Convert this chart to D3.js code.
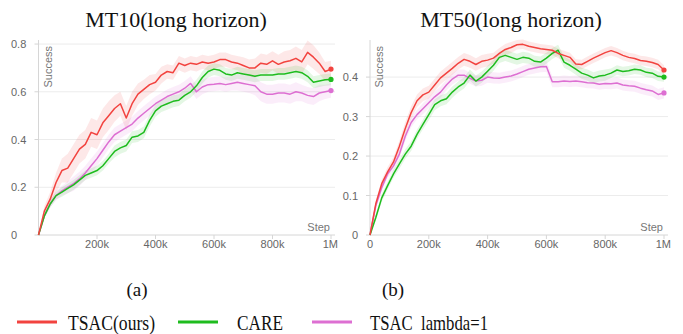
<!DOCTYPE html>
<html>
<head>
<meta charset="utf-8">
<script src="https://cdn.jsdelivr.net/npm/d3@7"></script>
<style>
  body { margin: 0; background: #fff; }
  svg { display: block; }
</style>
</head>
<body>
<div id="chart"></div>
<script>
// steps in thousands
const steps = [0,20,40,60,80,100,120,140,160,180,200,220,240,260,280,300,320,340,360,380,400,
  420,440,460,480,500,520,540,560,580,600,620,640,660,680,700,720,740,760,780,800,
  820,840,860,880,900,920,940,960,980,1000];

const mt10Tsac = [0,0.10,0.15,0.22,0.27,0.28,0.32,0.36,0.38,0.43,0.42,0.47,0.50,0.53,0.55,0.49,0.55,0.59,0.61,0.63,0.64,
  0.67,0.685,0.68,0.72,0.71,0.72,0.715,0.725,0.72,0.725,0.735,0.735,0.725,0.72,0.71,0.70,0.70,0.72,0.715,0.73,
  0.715,0.725,0.73,0.74,0.725,0.765,0.745,0.72,0.685,0.695];
const mt10Care = [0,0.08,0.13,0.165,0.18,0.195,0.21,0.23,0.25,0.26,0.27,0.29,0.32,0.35,0.365,0.375,0.41,0.415,0.43,0.48,0.52,
  0.54,0.55,0.56,0.565,0.585,0.60,0.625,0.66,0.685,0.695,0.69,0.675,0.67,0.68,0.675,0.67,0.665,0.67,0.67,0.67,
  0.675,0.675,0.68,0.685,0.68,0.665,0.64,0.645,0.65,0.652];
const mt10Lambda = [0,0.08,0.13,0.165,0.185,0.20,0.215,0.235,0.26,0.29,0.32,0.355,0.39,0.42,0.435,0.45,0.465,0.49,0.51,0.53,0.55,
  0.565,0.58,0.59,0.60,0.615,0.635,0.60,0.62,0.63,0.632,0.635,0.63,0.635,0.64,0.635,0.63,0.625,0.60,0.59,0.59,
  0.595,0.595,0.59,0.60,0.595,0.585,0.58,0.595,0.60,0.605];

const mt50Tsac = [0,0.08,0.13,0.16,0.185,0.225,0.27,0.31,0.34,0.355,0.362,0.38,0.398,0.41,0.422,0.435,0.445,0.44,0.432,0.44,0.443,
  0.448,0.46,0.47,0.475,0.482,0.483,0.478,0.475,0.472,0.47,0.468,0.46,0.455,0.45,0.433,0.432,0.44,0.448,0.455,0.462,
  0.467,0.462,0.455,0.45,0.447,0.442,0.44,0.437,0.432,0.418];
const mt50Care = [0,0.045,0.094,0.125,0.155,0.18,0.205,0.225,0.255,0.28,0.305,0.33,0.34,0.345,0.362,0.375,0.385,0.405,0.39,0.40,0.415,
  0.43,0.45,0.455,0.45,0.445,0.45,0.448,0.44,0.438,0.448,0.46,0.468,0.438,0.43,0.42,0.41,0.405,0.398,0.403,0.405,
  0.41,0.418,0.414,0.416,0.42,0.418,0.412,0.41,0.402,0.40];
const mt50Lambda = [0,0.075,0.12,0.155,0.175,0.205,0.25,0.285,0.305,0.32,0.335,0.35,0.362,0.38,0.395,0.405,0.405,0.397,0.39,0.392,0.40,
  0.398,0.397,0.40,0.403,0.408,0.414,0.42,0.423,0.426,0.427,0.388,0.388,0.39,0.389,0.39,0.388,0.386,0.385,0.382,0.384,
  0.383,0.385,0.38,0.378,0.377,0.372,0.368,0.365,0.356,0.36];

// half-widths of the shaded bands
const mt10TsacSpread = [0,0.02,0.03,0.04,0.05,0.06,0.06,0.06,0.06,0.06,0.06,0.06,0.06,0.055,0.05,0.05,0.05,0.045,0.04,0.04,0.035,
  0.035,0.03,0.03,0.03,0.03,0.03,0.03,0.03,0.03,0.03,0.03,0.03,0.03,0.03,0.035,0.035,0.04,0.04,0.04,0.04,
  0.04,0.045,0.045,0.05,0.05,0.05,0.05,0.045,0.04,0.035];
const mt10CareSpread = [0,0.01,0.015,0.015,0.02,0.02,0.02,0.02,0.02,0.02,0.02,0.02,0.02,0.025,0.025,0.025,0.025,0.025,0.025,0.025,0.025,
  0.025,0.025,0.025,0.025,0.025,0.025,0.025,0.025,0.025,0.025,0.025,0.025,0.025,0.025,0.025,0.025,0.025,0.025,0.025,0.025,
  0.025,0.025,0.025,0.025,0.025,0.025,0.025,0.025,0.025,0.025];
const mt10LambdaSpread = [0,0.01,0.015,0.02,0.02,0.025,0.03,0.03,0.03,0.03,0.03,0.03,0.03,0.03,0.03,0.03,0.03,0.03,0.03,0.03,0.03,
  0.03,0.03,0.03,0.03,0.03,0.03,0.03,0.03,0.03,0.03,0.03,0.03,0.03,0.035,0.035,0.035,0.04,0.04,0.04,0.04,
  0.04,0.04,0.04,0.04,0.035,0.035,0.035,0.035,0.03,0.03];
const mt50TsacSpread = [0,0.008,0.01,0.012,0.012,0.014,0.016,0.016,0.016,0.016,0.016,0.016,0.016,0.016,0.016,0.016,0.016,0.016,0.016,0.016,0.016,
  0.014,0.014,0.014,0.014,0.012,0.012,0.012,0.012,0.012,0.012,0.012,0.012,0.012,0.012,0.012,0.012,0.012,0.012,0.012,0.012,
  0.012,0.012,0.012,0.012,0.012,0.012,0.012,0.012,0.012,0.012];
const mt50CareSpread = [0,0.008,0.01,0.01,0.01,0.012,0.012,0.012,0.012,0.012,0.014,0.014,0.014,0.014,0.014,0.014,0.014,0.014,0.014,0.014,0.014,
  0.014,0.014,0.014,0.014,0.014,0.014,0.014,0.014,0.014,0.014,0.014,0.014,0.014,0.014,0.014,0.014,0.014,0.014,0.014,0.014,
  0.012,0.012,0.012,0.012,0.012,0.012,0.012,0.012,0.012,0.012];
const mt50LambdaSpread = [0,0.008,0.01,0.01,0.012,0.012,0.012,0.012,0.012,0.014,0.014,0.014,0.014,0.014,0.014,0.014,0.014,0.014,0.014,0.014,0.014,
  0.014,0.014,0.014,0.014,0.014,0.014,0.014,0.014,0.014,0.014,0.014,0.014,0.014,0.014,0.014,0.014,0.014,0.014,0.014,0.014,
  0.014,0.014,0.014,0.014,0.014,0.014,0.014,0.014,0.014,0.014];

const seriesNames = ['TSAC(ours)', 'CARE', 'TSAC  lambda=1'];
const seriesColors = ['#f2433f', '#1ebc1e', '#dd6fd2'];
const xTickValues = [200, 400, 600, 800, 1000];
const xTickLabels = ['200k', '400k', '600k', '800k', '1M'];
const mt10YTicks = [0, 0.2, 0.4, 0.6, 0.8];
const mt50YTicks = [0, 0.1, 0.2, 0.3, 0.4];

const W = 683, H = 334;
const svg = d3.select('#chart').append('svg').attr('width', W).attr('height', H);

function drawPanel(p) {
  const x = d3.scaleLinear().domain([0, 1000]).range([p.x0, p.x1]);
  const y = d3.scaleLinear().domain([0, p.yMax]).range([235, 40]);
  const g = svg.append('g');

  // gridlines
  g.selectAll('.grid').data(p.yTicks.filter(d => d > 0)).enter().append('line')
    .attr('x1', p.x0).attr('x2', p.x1 + 4)
    .attr('y1', d => y(d)).attr('y2', d => y(d))
    .attr('stroke', '#ececec').attr('stroke-width', 1);

  // axes
  g.append('line').attr('x1', p.x0).attr('x2', p.x0).attr('y1', 40).attr('y2', 235)
    .attr('stroke', '#d6d6d6');
  g.append('line').attr('x1', p.x0).attr('x2', p.x1 + 4).attr('y1', 235).attr('y2', 235)
    .attr('stroke', '#d6d6d6');
  g.selectAll('.yt').data(p.yTicks).enter().append('line')
    .attr('x1', p.x0 - 4).attr('x2', p.x0).attr('y1', d => y(d)).attr('y2', d => y(d))
    .attr('stroke', '#d6d6d6');
  g.selectAll('.xt').data(xTickValues).enter().append('line')
    .attr('x1', d => x(d)).attr('x2', d => x(d)).attr('y1', 235).attr('y2', 239)
    .attr('stroke', '#d6d6d6');

  const tickFont = '"Liberation Sans", Arial, sans-serif';
  g.selectAll('.yl').data(p.yTicks).enter().append('text')
    .attr('x', p.yLabelX).attr('y', d => y(d) + 4)
    .attr('text-anchor', p.yLabelAnchor)
    .attr('font-family', tickFont).attr('font-size', 11).attr('fill', '#666')
    .text(d => d === 0 ? '0' : d3.format('.1f')(d));
  const xl = p.showZero ? [0].concat(xTickValues) : xTickValues;
  const xlText = p.showZero ? ['0'].concat(xTickLabels) : xTickLabels;
  g.selectAll('.xl').data(xl).enter().append('text')
    .attr('x', (d, i) => d === 1000 ? x(d) + 7 : x(d))
    .attr('y', 248)
    .attr('text-anchor', d => d === 1000 ? 'end' : 'middle')
    .attr('font-family', tickFont).attr('font-size', 11).attr('fill', '#666')
    .text((d, i) => xlText[i]);

  g.append('text').attr('transform', `translate(${p.x0 + 13},46) rotate(-90)`)
    .attr('text-anchor', 'end').attr('font-family', tickFont).attr('font-size', 11)
    .attr('fill', '#777').text('Success');
  g.append('text').attr('x', p.x1 - 1).attr('y', 231).attr('text-anchor', 'end')
    .attr('font-family', tickFont).attr('font-size', 11).attr('fill', '#777').text('Step');

  // bands, then lines on top
  const area = d3.area()
    .x(d => x(d.s))
    .y0(d => y(Math.max(0, d.v - d.e)))
    .y1(d => y(d.v + d.e));
  const line = d3.line().x(d => x(d.s)).y(d => y(d.v));

  const rows = p.series.map((vals, k) => steps.map((s, i) => ({s, v: vals[i], e: p.spreads[k][i]})));
  rows.forEach((r, k) => {
    g.append('path').attr('d', area(r)).attr('fill', seriesColors[k]).attr('fill-opacity', 0.12);
  });
  [2, 1, 0].forEach(k => {
    g.append('path').attr('d', line(rows[k])).attr('fill', 'none')
      .attr('stroke', seriesColors[k]).attr('stroke-width', 1.5).attr('stroke-linejoin', 'round');
    const last = rows[k][rows[k].length - 1];
    g.append('circle').attr('cx', x(last.s)).attr('cy', y(last.v)).attr('r', 2.6)
      .attr('fill', seriesColors[k]);
  });

  svg.append('text').attr('x', p.titleX).attr('y', 27).attr('text-anchor', 'middle')
    .attr('font-family', '"Liberation Serif", "Times New Roman", serif').attr('font-size', 22)
    .attr('fill', '#111').text(p.title);
  svg.append('text').attr('x', p.capX).attr('y', 296).attr('text-anchor', 'middle')
    .attr('font-family', '"Liberation Serif", "Times New Roman", serif').attr('font-size', 19)
    .attr('fill', '#111').text(p.caption);
}

drawPanel({
  title: 'MT10(long horizon)', titleX: 176, caption: '(a)', capX: 137,
  x0: 38.5, x1: 331, yMax: 0.817, yTicks: mt10YTicks,
  yLabelX: 11, yLabelAnchor: 'start', showZero: false,
  series: [mt10Tsac, mt10Care, mt10Lambda],
  spreads: [mt10TsacSpread, mt10CareSpread, mt10LambdaSpread]
});
drawPanel({
  title: 'MT50(long horizon)', titleX: 511, caption: '(b)', capX: 393,
  x0: 370, x1: 664, yMax: 0.494, yTicks: mt50YTicks,
  yLabelX: 358, yLabelAnchor: 'end', showZero: true,
  series: [mt50Tsac, mt50Care, mt50Lambda],
  spreads: [mt50TsacSpread, mt50CareSpread, mt50LambdaSpread]
});

// legend
const legendX = [17, 178, 312];
const legendTextX = [68, 237, 370];
const legendTextW = [87, 46, 118];
const lg = svg.append('g');
seriesNames.forEach((name, i) => {
  lg.append('line').attr('x1', legendX[i]).attr('x2', legendX[i] + 40)
    .attr('y1', 322).attr('y2', 322)
    .attr('stroke', seriesColors[i]).attr('stroke-width', 3);
  lg.append('text').attr('x', legendTextX[i]).attr('y', 330)
    .attr('font-family', '"Liberation Serif", "Times New Roman", serif').attr('font-size', 21)
    .attr('fill', '#111')
    .attr('textLength', legendTextW[i]).attr('lengthAdjust', 'spacingAndGlyphs')
    .style('white-space', 'pre')
    .text(name);
});
</script>
</body>
</html>
